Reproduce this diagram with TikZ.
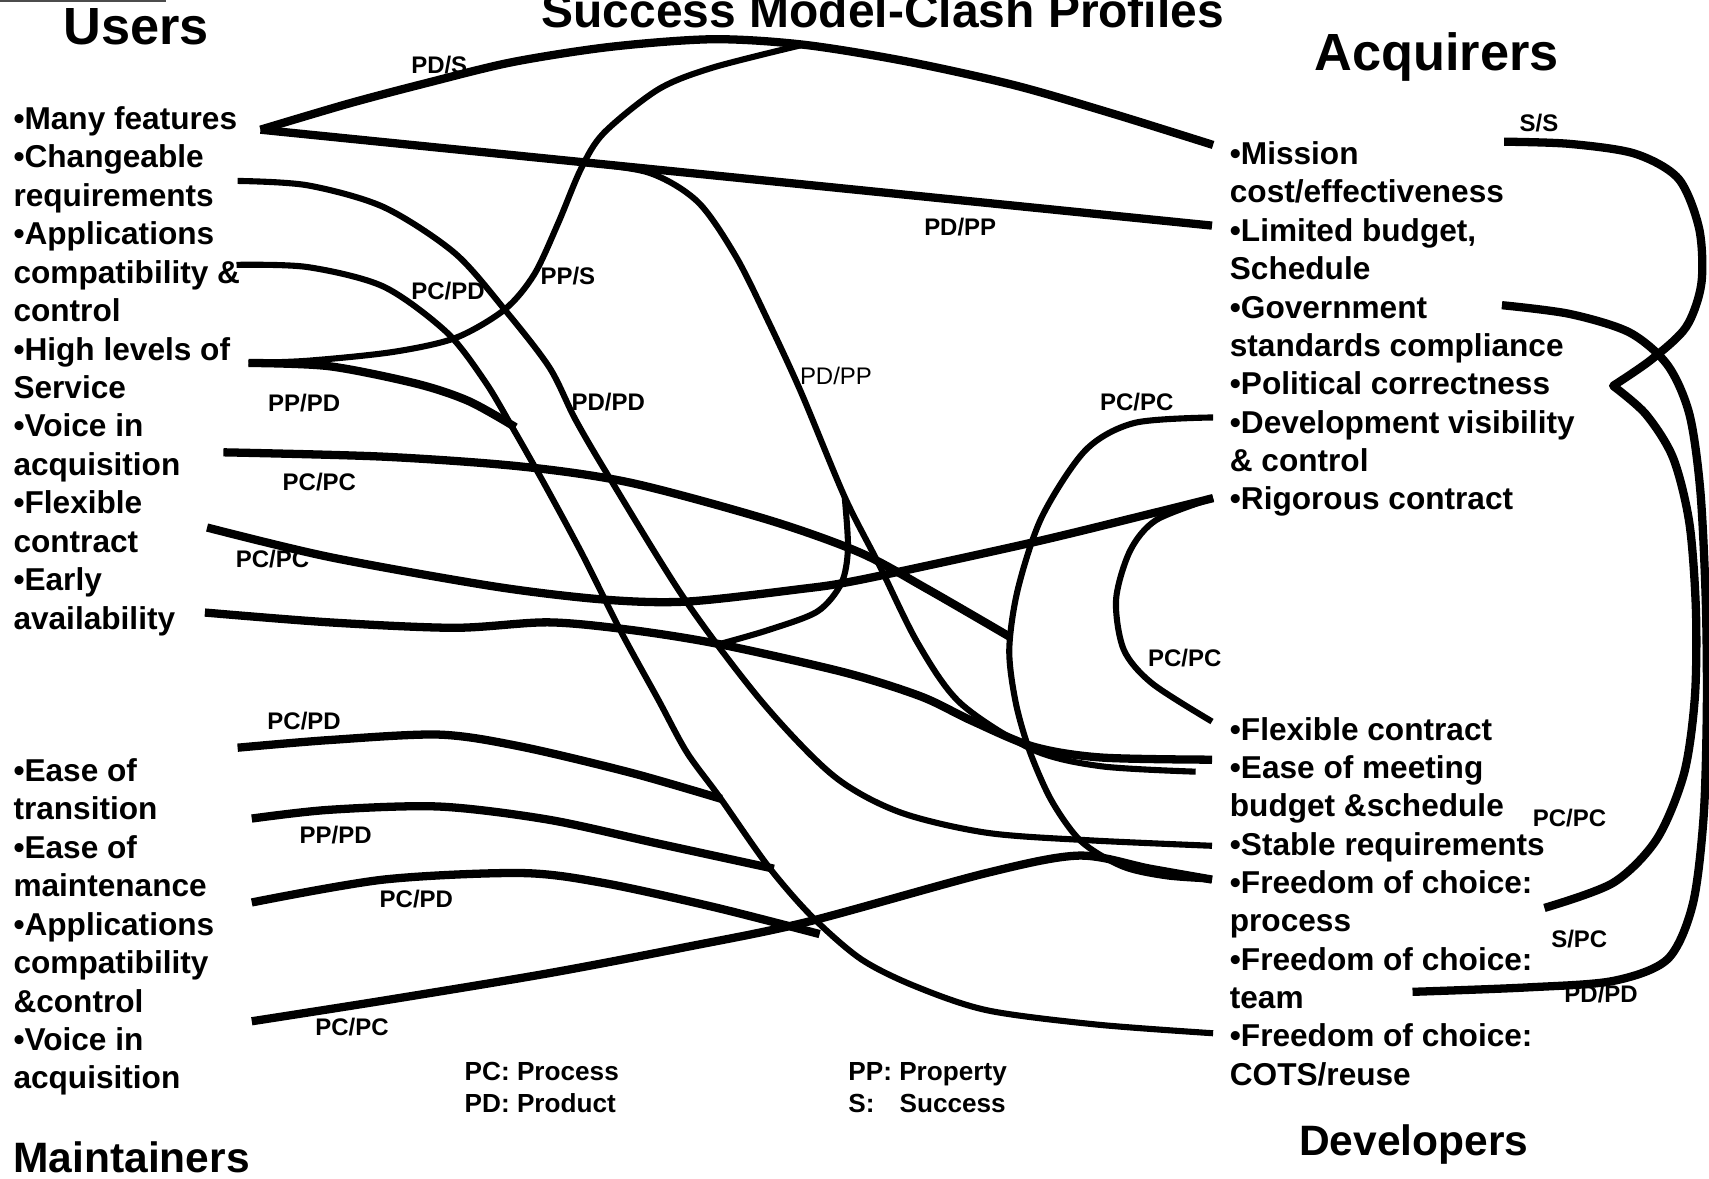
\documentclass[tikz,border=0pt]{standalone}
\usepackage{fontspec}
\setmainfont{Liberation Sans}
\usepackage{tikz}

\begin{document}
\begin{tikzpicture}[x=0.5pt, y=-0.5pt,
    entry/.style={anchor=base west, inner sep=0pt, font=\bfseries\fontsize{14.5}{17}\selectfont},
    head/.style={anchor=base, inner sep=0pt, font=\bfseries\fontsize{24}{28}\selectfont},
    subhead/.style={inner sep=0pt, font=\bfseries\fontsize{19.5}{23}\selectfont},
    lbl/.style={inner sep=0pt, font=\bfseries\fontsize{11}{13}\selectfont},
    legendtxt/.style={anchor=base west, inner sep=0pt, font=\bfseries\fontsize{12}{14}\selectfont},
    clash/.style={line width=3.8pt, line join=round},
    thinclash/.style={line width=2.8pt, line join=round}]
                        \useasboundingbox (0,0) rectangle (1568,1081);

                        \node[head] (users) at (125,41) {Users};
                        \node[head, font=\bfseries\fontsize{22}{26}\selectfont] (ttl) at (810,25) {Success Model-Clash Profiles};
                        \node[head] (acq) at (1318,65) {Acquirers};
                        \node[subhead, anchor=base] (dvl) at (1297,1060) {Developers};
                        \node[subhead, anchor=base west] (mtn) at (12,1076) {Maintainers};

                        \foreach \t [count=\i from 0] in {•Many features, •Changeable, requirements, •Applications, compatibility \&, control, •High levels of, Service, •Voice in, acquisition, •Flexible, contract, •Early, availability}
                            \node[entry] (u\i) at (12,{118.5+35.3*\i}) {\t};
                        \foreach \t [count=\i from 0] in {•Mission, cost/effectiveness, {•Limited budget,}, Schedule, •Government, standards compliance, •Political correctness, •Development visibility, \& control, •Rigorous contract}
                            \node[entry] (a\i) at (1128,{151+35.2*\i}) {\t};
                        \foreach \t [count=\i from 0] in {•Flexible contract, •Ease of meeting, budget \&schedule, •Stable requirements, •Freedom of choice:, process, •Freedom of choice:, team, •Freedom of choice:, COTS/reuse}
                            \node[entry] (d\i) at (1128,{679+35.2*\i}) {\t};
                        \foreach \t [count=\i from 0] in {•Ease of, transition, •Ease of, maintenance, •Applications, compatibility, \&control, •Voice in, acquisition}
                            \node[entry] (m\i) at (12,{717+35.25*\i}) {\t};

                        \coordinate (rl) at (0,1);
                        \coordinate (rr) at (152,1);
                        \coordinate (mf) at (239,119);
                        \coordinate (mis) at (1113,133);
                        \coordinate (lim) at (1112,207);
                        \coordinate (chg) at (218,166);
                        \coordinate (app) at (217,243);
                        \coordinate (hls) at (228,333);
                        \coordinate (voi) at (205,415);
                        \coordinate (flx) at (190,484);
                        \coordinate (ear) at (188,562);
                        \coordinate (tra) at (218,686);
                        \coordinate (mnt) at (231,751);
                        \coordinate (acc) at (231,828);
                        \coordinate (mvo) at (231,937);
                        \coordinate (dev) at (1113,383);
                        \coordinate (rig) at (1113,457);
                        \coordinate (fcon) at (1112,662);
                        \coordinate (emt) at (1112,697);
                        \coordinate (emt2) at (1097,708);
                        \coordinate (stb) at (1112,776);
                        \coordinate (fcp) at (1112,807);
                        \coordinate (cots) at (1113,948);
                        \coordinate (ss) at (1380,130);
                        \coordinate (gov) at (1378,280);
                        \coordinate (kink) at (1480,354);
                        \coordinate (fcp2) at (1417,833);
                        \coordinate (team) at (1296,910);
                        \coordinate (pk) at (737,41);
                        \coordinate (jb) at (523,148);
                        \coordinate (ja) at (660,591);
                        \coordinate (jd) at (775,456);
                        \coordinate (ppd) at (473,392);
                        \coordinate (vend) at (926,584);
                        \coordinate (tend) at (662,733);
                        \coordinate (mend) at (710,797);
                        \coordinate (aend) at (752,857);

                        \draw[line width=0.8pt, black!70] (rl) -- (rr);
                        \draw[clash] plot[smooth] coordinates {(mf) (320,95) (392,76) (470,57) (560,43) (654,36) (pk) (830,56) (930,78) (1020,104) (mis)};
                        \draw[clash] (mf) -- (lim);
                        \draw[thinclash] plot[smooth] coordinates {(hls) (282,331) (360,323) (418,310) (463,284) (490,252) (512,205) (533,155) (554,122) (604,82) (654,62) (pk)};
                        \draw[clash] plot[smooth] coordinates {(hls) (302,336) (382,352) (430,368) (ppd)};
                        \draw[thinclash] plot[smooth] coordinates {(chg) (282,170) (352,190) (417,232) (463,284) (504,337) (528,385) (559,438) (629,551) (700,645) (765,712) (825,745) (905,764) (1000,771) (stb)};
                        \draw[thinclash] plot[smooth] coordinates {(app) (282,245) (352,263) (410,305) (445,350) (470,392) (500,445) (535,510) (570,580) (604,642) (630,690) (660,731) (705,795) (745,841) (790,880) (840,905) (906,927) (1006,940) (cots)};
                        \draw[clash] plot[smooth] coordinates {(voi) (352,419) (478,428) (579,443) (705,477) (789,507) (850,540) (vend)};
                        \draw[clash] plot[smooth] coordinates {(flx) (302,511) (453,538) (553,550) (629,552) (730,541) (789,532) (946,498) (1057,471) (rig)};
                        \draw[clash] plot[smooth] coordinates {(ear) (302,571) (417,576) (503,571) (579,578) (ja) (775,617) (845,639) (891,661) (948,685) (1010,695) (emt)};
                        \draw[thinclash] plot[smooth] coordinates {(ja) (705,578) (750,561) (772,535) (778,503) (jd)};
                        \draw[thinclash] plot[smooth] coordinates {(jb) (594,158) (640,185) (675,235) (705,295) (735,360) (jd) (806,517) (842,590) (881,645) (948,688) (1010,703) (emt2)};
                        \draw[clash] plot[smooth] coordinates {(tra) (302,679) (403,674) (478,685) (579,709) (tend)};
                        \draw[clash] plot[smooth] coordinates {(mnt) (302,743) (403,740) (503,752) (604,774) (mend)};
                        \draw[clash] plot[smooth] coordinates {(acc) (352,807) (478,801) (553,810) (654,832) (aend)};
                        \draw[clash] plot[smooth] coordinates {(mvo) (352,918) (503,893) (629,869) (740,846) (905,801) (990,785) (1055,797) (fcp)};
                        \draw[thinclash] plot[smooth] coordinates {(dev) (1041,388) (996,413) (956,474) (934,540) (926,596) (932,645) (945,690) (965,735) (992,772) (1030,795) (1070,804) (fcp)};
                        \draw[thinclash] plot[smooth] coordinates {(rig) (1061,477) (1037,505) (1024,550) (1031,596) (1057,627) (fcon)};
                        \draw[clash] plot[smooth] coordinates {(ss) (1440,132) (1500,141) (1540,164) (1559,210) (1561,260) (1547,300) (1515,330) (kink)}
                            -- plot[smooth] coordinates {(kink) (1510,380) (1535,420) (1550,480) (1556,560) (1555,640) (1545,710) (1520,770) (1480,810) (fcp2)};
                        \draw[clash] plot[smooth] coordinates {(gov) (1440,288) (1495,305) (1530,335) (1550,380) (1560,450) (1565,550) (1566,650) (1563,750) (1553,830) (1530,880) (1480,900) (1400,906) (team)};

                        \node[lbl] (l1) at (403,60) {PD/S};
                        \node[lbl] (l2) at (881,208) {PD/PP};
                        \node[lbl] (l3) at (411,267) {PC/PD};
                        \node[lbl] (l4) at (521,253) {PP/S};
                        \node[lbl] (l5) at (279,370) {PP/PD};
                        \node[lbl] (l6) at (558,369) {PD/PD};
                        \node[lbl, font=\fontsize{11}{13}\selectfont] (l7) at (767,345) {PD/PP};
                        \node[lbl] (l8) at (1043,369) {PC/PC};
                        \node[lbl] (l9) at (293,442) {PC/PC};
                        \node[lbl] (l10) at (250,513) {PC/PC};
                        \node[lbl] (l11) at (1087,604) {PC/PC};
                        \node[lbl] (l12) at (279,662) {PC/PD};
                        \node[lbl] (l13) at (308,766) {PP/PD};
                        \node[lbl] (l14) at (382,825) {PC/PD};
                        \node[lbl] (l15) at (323,942) {PC/PC};
                        \node[lbl] (l16) at (1440,751) {PC/PC};
                        \node[lbl] (l17) at (1449,862) {S/PC};
                        \node[lbl] (l18) at (1469,912) {PD/PD};
                        \node[lbl] (l19) at (1412,113) {S/S};

                        \node[legendtxt] (kpc) at (426,991) {PC: Process};
                        \node[legendtxt] (kpd) at (426,1021) {PD: Product};
                        \node[legendtxt] (kpp) at (778,991) {PP: Property};
                        \node[legendtxt] (ks) at (778,1021) {S:\hspace{11.5pt}Success};
                    \end{tikzpicture}
\end{document}
